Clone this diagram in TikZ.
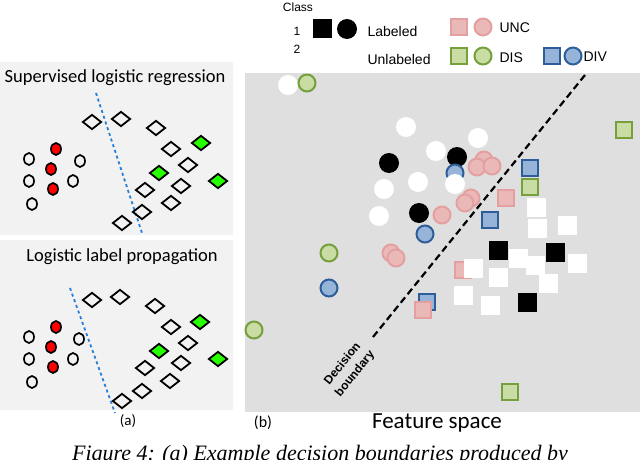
\documentclass[tikz,border=0pt]{standalone}
\usepackage{fontspec}
\usetikzlibrary{shapes.geometric}
\setmainfont{Liberation Sans}
\newfontfamily\calf{Carlito}
\newfontfamily\capf{Liberation Serif}
\definecolor{pinkf}{HTML}{EBB8B8}\definecolor{pinkd}{HTML}{E4A0A0}
\definecolor{greenf}{HTML}{C8DCA4}\definecolor{greend}{HTML}{76A03C}
\definecolor{bluef}{HTML}{96B4D8}\definecolor{blued}{HTML}{2E5E9A}
\begin{document}
\begin{tikzpicture}[x=1pt,y=-1pt,
  dia/.style={draw=black,line width=1.8pt,diamond,minimum width=19pt,minimum height=15pt,inner sep=0pt,shape aspect=1.3},
  gdia/.style={dia,fill=green!80!lime},
  cir/.style={draw=black,line width=1.7pt,ellipse,minimum width=10pt,minimum height=12pt,inner sep=0pt},
  rcir/.style={cir,fill=red},
  bigc/.style={circle,minimum size=20pt,inner sep=0pt},
  bigs/.style={rectangle,minimum size=19pt,inner sep=0pt},
  wc/.style={bigc,fill=white},
  bc/.style={bigc,fill=black},
  ws/.style={bigs,fill=white},
  bs/.style={bigs,fill=black},
  pc/.style={bigc,minimum size=17pt,fill=pinkf,draw=pinkd,line width=2pt},
  ps/.style={bigs,minimum size=16pt,fill=pinkf,draw=pinkd,line width=2pt},
  gc/.style={bigc,minimum size=17pt,fill=greenf,draw=greend,line width=2pt},
  gs/.style={bigs,minimum size=16pt,fill=greenf,draw=greend,line width=2pt},
  bluc/.style={bigc,minimum size=17pt,fill=bluef,draw=blued,line width=2pt},
  blus/.style={bigs,minimum size=16pt,fill=bluef,draw=blued,line width=2pt},
  lbl/.style={font=\fontsize{14}{16}\selectfont},
  bnd/.style={line width=2.2pt,dash pattern=on 7pt off 4pt}
]
\useasboundingbox (0,0) rectangle (640,460);
\clip (0,0) rectangle (640,460);
% left panels
\fill[gray!10] (0,62) rectangle (233,235);
\fill[gray!10] (0,240) rectangle (233,410);
\node[font=\calf\fontsize{18.5}{22}\selectfont] (t1) at (115,78) {Supervised logistic regression};
\node[font=\calf\fontsize{18.5}{22}\selectfont] (t2) at (122,257) {Logistic label propagation};
\coordinate (l1a) at (96,93); \coordinate (l1b) at (142,233);
\draw[dashed,line width=1.8pt,color=blue!50!cyan!70!gray] (l1a) -- (l1b);
\coordinate (l2a) at (70,288); \coordinate (l2b) at (115,413);
\draw[dashed,line width=1.8pt,color=blue!50!cyan!70!gray] (l2a) -- (l2b);
\foreach \p [count=\i] in {(92,122),(121,119),(156,128),(171,149),(188,165),(181,186),(145,190),(171,203),(142,212),(122,223)}
  \node[dia] (da\i) at \p {};
\foreach \p [count=\i] in {(201,143),(159,173),(218,181)} \node[gdia] (ga\i) at \p {};
\foreach \p [count=\i] in {(29,159),(80,161),(29,181),(73,181),(32,204)} \node[cir] (ca\i) at \p {};
\foreach \p [count=\i] in {(56,149),(51,169),(53,189)} \node[rcir] (ra\i) at \p {};
\foreach \p [count=\i] in {(92,300),(120,297),(155,306),(171,327),(188,343),(181,363),(145,368),(170,381),(142,391),(122,401)}
  \node[dia] (db\i) at \p {};
\foreach \p [count=\i] in {(200,322),(159,351),(218,359)} \node[gdia] (gb\i) at \p {};
\foreach \p [count=\i] in {(29,337),(79,339),(29,359),(73,359),(32,382)} \node[cir] (cb\i) at \p {};
\foreach \p [count=\i] in {(56,327),(51,347),(53,367)} \node[rcir] (rb\i) at \p {};
\node[font=\calf\fontsize{15}{17}\selectfont] (la) at (128,421) {(a)};
% right panel
\fill[gray!25] (245,73) rectangle (640,412);
\node[font=\calf\fontsize{16}{18}\selectfont] (lb) at (263,423) {(b)};
\node[font=\calf\fontsize{23}{25}\selectfont] (fs) at (437,423) {Feature space};
% legend
\node[font=\fontsize{12}{14}\selectfont] (cls) at (298,7) {Class};
\node[font=\fontsize{12}{14}\selectfont] (k1) at (297,31) {1};
\node[font=\fontsize{12}{14}\selectfont] (k2) at (297,49) {2};
\node[bs] (lbs) at (322,29) {}; \node[bc] (lbc) at (347,29) {};
\node[ws] (lws) at (322,58) {}; \node[wc] (lwc) at (347,58) {};
\node[lbl,anchor=west] (tl) at (364,31) {Labeled};
\node[lbl,anchor=west] (tu) at (364,59) {Unlabeled};
\node[ps] (lps) at (459,27) {}; \node[pc] (lpc) at (483,27) {};
\node[lbl,anchor=west] (tunc) at (496,28) {UNC};
\node[gs] (lgs) at (459,56) {}; \node[gc] (lgc) at (483,56) {};
\node[lbl,anchor=west] (tdis) at (496,58) {DIS};
\node[blus] (lbls) at (552,56) {}; \node[bluc] (lblc) at (573,56) {};
\node[lbl,anchor=west] (tdiv) at (580,57) {DIV};
% boundary
\coordinate (ba) at (585,75); \coordinate (bb) at (373,337);
\draw[bnd] (ba) -- (bb);
\node[font=\bfseries\fontsize{12}{16}\selectfont,rotate=51,align=center,inner sep=0pt] (dec) at (349,369) {Decision\\boundary};
% scatter
\node[wc] (w1) at (288,85) {}; \node[gc] (g1) at (307,83) {};
\foreach \p [count=\i] in {(406,127),(478,138),(436,151),(418,182),(384,189),(379,216)} \node[wc] (wa\i) at \p {};
\foreach \p [count=\i] in {(457,157),(389,163),(419,213)} \node[bc] (bk\i) at \p {};
\foreach \p [count=\i] in {(484,160),(477,167),(492,166),(471,198),(465,203),(442,215),(391,253),(396,258)} \node[pc] (pa\i) at \p {};
\node[bluc] (bl1) at (455,173) {}; \node[wc] (wa7) at (455,184) {};
\node[bluc] (bl2) at (425,234) {}; \node[bluc] (bl3) at (329,288) {};
\node[gc] (g2) at (329,253) {}; \node[gc] (g3) at (254,330) {};
\node[blus] (bs1) at (530,168) {}; \node[gs] (gs1) at (530,187) {};
\node[gs] (gs2) at (624,130) {}; \node[gs] (gs3) at (510,392) {};
\node[ps] (ps1) at (506,198) {}; \node[blus] (bs2) at (490,220) {};
\node[ps] (ps2) at (463,270) {};
\node[blus] (bs3) at (427,302) {}; \node[ps] (ps3) at (423,310) {};
\foreach \p [count=\i] in {(536,207),(537,228),(567,225),(518,258),(535,265),(577,263),(473,268),(498,277),(548,283),(463,295),(490,305)} \node[ws] (sw\i) at \p {};
\foreach \p [count=\i] in {(498,250),(555,252),(527,302)} \node[bs] (sb\i) at \p {};
% caption
\node[font=\capf\itshape\fontsize{22}{24}\selectfont,anchor=base] (cap) at (320,460) {Figure 4: (a) Example decision boundaries produced by};
\end{tikzpicture}
\end{document}
